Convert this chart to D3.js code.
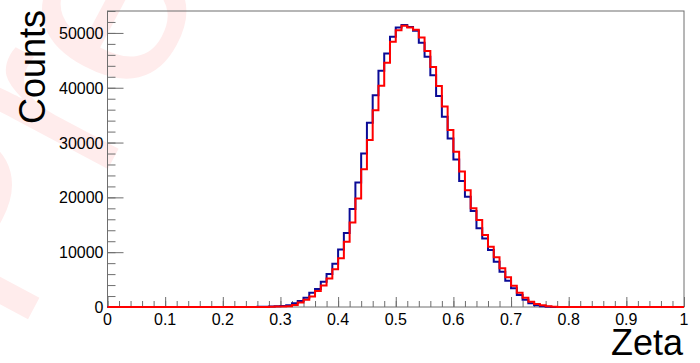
<!DOCTYPE html>
<html>
<head>
<meta charset="utf-8">
<script src="https://cdn.jsdelivr.net/npm/d3@7"></script>
<style>
  body { margin: 0; background: #fff; }
  svg { display: block; font-family: "Liberation Sans", Arial, sans-serif; }
</style>
</head>
<body>
<div id="chart"></div>
<script>
// Zeta distribution, two histograms with 100 bins between 0 and 1
const binEdgesMin = 0;
const binEdgesMax = 1;
const nBins = 100;

// counts per bin, bins 0..99
const blueCounts = [
  0, 0, 0, 0, 0, 0, 0, 0, 0, 0,
  0, 0, 0, 0, 0, 0, 0, 0, 0, 0,
  0, 0, 0, 0, 0, 10, 30, 50, 100, 150,
  200, 300, 700, 1100, 1700, 2600, 3300, 4600, 6000, 7900,
  10500, 13500, 17900, 22700, 28000, 33600, 38650, 43100, 46250, 49300,
  51000, 51450, 51100, 50400, 48200, 45650, 42300, 38500, 34700, 30750,
  26900, 23000, 20100, 17500, 14350, 12500, 10400, 8250, 6450, 4800,
  3400, 2200, 1300, 700, 300, 150, 60, 20, 0, 0,
  0, 0, 0, 0, 0, 0, 0, 0, 0, 0,
  0, 0, 0, 0, 0, 0, 0, 0, 0, 0
];
const redCounts = [
  0, 0, 0, 0, 0, 0, 0, 0, 0, 0,
  0, 0, 0, 0, 0, 0, 0, 0, 0, 0,
  0, 0, 0, 0, 0, 0, 10, 20, 40, 70,
  100, 150, 350, 800, 1300, 1900, 2900, 3900, 5200, 6900,
  8900, 11900, 15400, 19800, 25150, 30450, 35900, 40350, 44550, 48400,
  50500, 51300, 51000, 50600, 49150, 46700, 43800, 40300, 36600, 32300,
  28300, 24700, 21300, 18000, 15860, 13130, 11000, 9060, 7050, 5420,
  3890, 2610, 1700, 970, 550, 300, 150, 50, 20, 0,
  0, 0, 0, 0, 0, 0, 0, 0, 0, 0,
  0, 0, 0, 0, 0, 0, 0, 0, 0, 0
];

const xTicks = [0, 0.1, 0.2, 0.3, 0.4, 0.5, 0.6, 0.7, 0.8, 0.9, 1];
const yTicks = [0, 10000, 20000, 30000, 40000, 50000];
const yMax = 54000;

const W = 700, H = 363;
const margin = { top: 11, right: 16, bottom: 56, left: 107.5 };

const svg = d3.select('#chart').append('svg')
  .attr('width', W)
  .attr('height', H);

// faint watermark behind the plot, partly outside the picture
svg.append('text')
  .attr('transform', 'translate(18,338) rotate(-62)')
  .attr('font-size', 260)
  .attr('font-family', '"Liberation Sans", Arial, sans-serif')
  .attr('fill', '#ffecec')
  .text('Preliminary');

const x = d3.scaleLinear().domain([binEdgesMin, binEdgesMax]).range([margin.left, W - margin.right]);
const y = d3.scaleLinear().domain([0, yMax]).range([H - margin.bottom, margin.top]);

const axisColor = '#6e6e6e';

// frame
svg.append('rect')
  .attr('x', x(0)).attr('y', y(yMax))
  .attr('width', x(1) - x(0)).attr('height', y(0) - y(yMax))
  .attr('fill', 'none')
  .attr('stroke', axisColor)
  .attr('stroke-width', 1);

// x axis ticks (major every 0.1, minor every 0.02)
const xAxis = svg.append('g').attr('transform', `translate(0,${y(0)})`);
xAxis.call(d3.axisTop(x).tickValues(d3.range(0, 1.0001, 0.02)).tickSize(6).tickFormat(''));
xAxis.append('g').call(d3.axisTop(x).tickValues(xTicks).tickSize(10).tickFormat(''));
xAxis.selectAll('.domain').remove();
xAxis.selectAll('line').attr('stroke', axisColor);

svg.append('g').selectAll('text')
  .data(xTicks)
  .join('text')
  .attr('x', d => x(d))
  .attr('y', y(0) + 18)
  .attr('text-anchor', 'middle')
  .attr('font-size', 16)
  .text(d => d3.format('')(d));

// y axis ticks (major every 10000, minor every 2000)
const yAxis = svg.append('g').attr('transform', `translate(${x(0)},0)`);
yAxis.call(d3.axisRight(y).tickValues(d3.range(0, 54001, 2000)).tickSize(8).tickFormat(''));
yAxis.append('g').call(d3.axisRight(y).tickValues(yTicks).tickSize(16).tickFormat(''));
yAxis.selectAll('.domain').remove();
yAxis.selectAll('line').attr('stroke', axisColor);

svg.append('g').selectAll('text')
  .data(yTicks)
  .join('text')
  .attr('x', x(0) - 4)
  .attr('y', d => y(d) + 6)
  .attr('text-anchor', 'end')
  .attr('font-size', 16)
  .text(d => d);

// histogram outlines
const binW = (binEdgesMax - binEdgesMin) / nBins;
const stepLine = d3.line()
  .x(d => x(d[0]))
  .y(d => y(d[1]))
  .curve(d3.curveStepAfter);

function histPoints(counts) {
  const pts = counts.map((c, i) => [binEdgesMin + i * binW, c]);
  pts.push([binEdgesMax, counts[counts.length - 1]]);
  return pts;
}

svg.append('path')
  .datum(histPoints(blueCounts))
  .attr('d', stepLine)
  .attr('fill', 'none')
  .attr('stroke', '#0b0b96')
  .attr('stroke-width', 2);

svg.append('path')
  .datum(histPoints(redCounts))
  .attr('d', stepLine)
  .attr('fill', 'none')
  .attr('stroke', '#ff0000')
  .attr('stroke-width', 2);

// axis titles
svg.append('text')
  .attr('transform', `translate(45,${margin.top - 1}) rotate(-90)`)
  .attr('text-anchor', 'end')
  .attr('font-size', 36)
  .text('Counts');

svg.append('text')
  .attr('x', 683)
  .attr('y', 355)
  .attr('text-anchor', 'end')
  .attr('font-size', 36)
  .text('Zeta');
</script>
</body>
</html>
